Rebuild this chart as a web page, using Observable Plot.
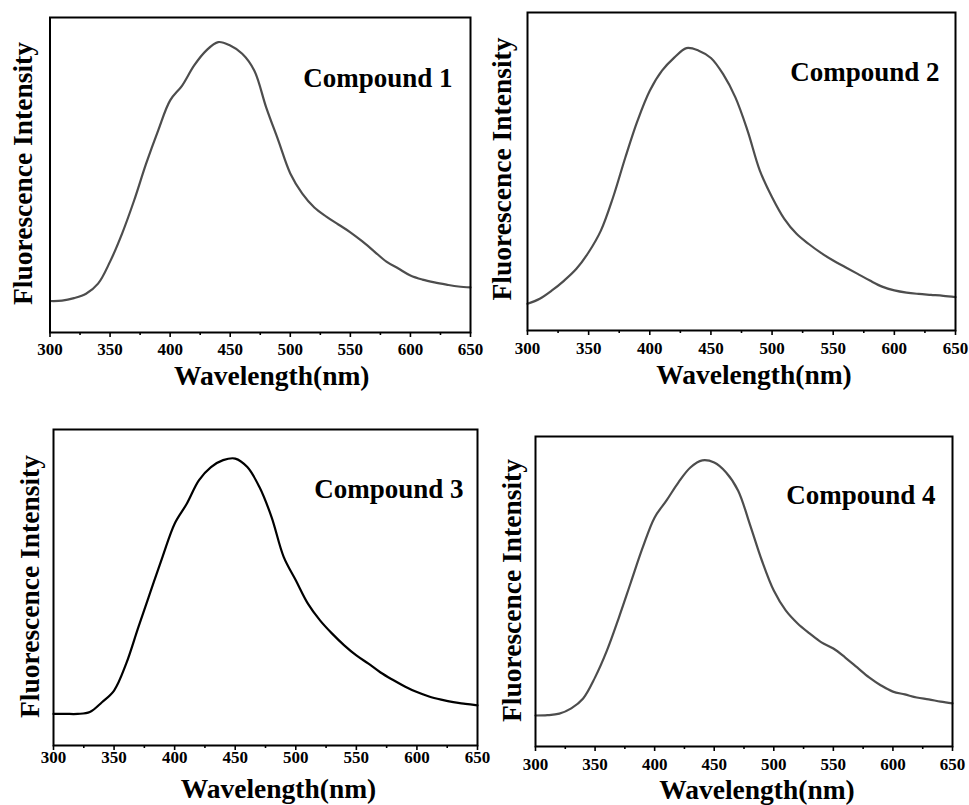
<!DOCTYPE html>
<html>
<head>
<meta charset="utf-8">
<script src="https://cdn.jsdelivr.net/npm/d3@7"></script>
<script src="https://cdn.jsdelivr.net/npm/@observablehq/plot@0.6"></script>
<style>
  html, body { margin: 0; padding: 0; background: #ffffff; }
  #wrap { position: relative; width: 969px; height: 805px; overflow: hidden; background: #ffffff; }
  .panel { position: absolute; }
  .panel svg { overflow: visible; font-size: 17px; font-weight: bold; }
</style>
</head>
<body>
<div id="wrap"></div>
<script>
// ---- data ----
const wavelengths = [300, 310, 320, 330, 340, 350, 360, 370, 380, 390,
                     400, 410, 420, 430, 440, 450, 460, 470, 480, 490,
                     500, 510, 520, 530, 540, 550, 560, 570, 580, 590,
                     600, 610, 620, 630, 640, 650];

const compound1 = [0.100, 0.101, 0.109, 0.123, 0.155, 0.225, 0.314, 0.419, 0.536, 0.641,
                   0.737, 0.784, 0.848, 0.895, 0.922, 0.911, 0.885, 0.832, 0.714, 0.610,
                   0.505, 0.441, 0.397, 0.368, 0.343, 0.318, 0.289, 0.257, 0.225, 0.203,
                   0.181, 0.168, 0.159, 0.152, 0.146, 0.143];

const compound2 = [0.084, 0.100, 0.126, 0.157, 0.194, 0.246, 0.314, 0.419, 0.544, 0.660,
                   0.754, 0.817, 0.858, 0.888, 0.880, 0.857, 0.806, 0.733, 0.628, 0.503,
                   0.419, 0.351, 0.304, 0.272, 0.244, 0.220, 0.199, 0.178, 0.157, 0.138,
                   0.126, 0.119, 0.115, 0.112, 0.109, 0.105];

const compound3 = [0.100, 0.100, 0.100, 0.106, 0.137, 0.174, 0.259, 0.374, 0.486, 0.597,
                   0.702, 0.765, 0.839, 0.881, 0.903, 0.908, 0.881, 0.818, 0.723, 0.597,
                   0.523, 0.449, 0.396, 0.354, 0.317, 0.285, 0.259, 0.231, 0.208, 0.187,
                   0.169, 0.155, 0.145, 0.137, 0.132, 0.127];

const compound4 = [0.100, 0.101, 0.106, 0.123, 0.155, 0.223, 0.310, 0.416, 0.529, 0.642,
                   0.739, 0.794, 0.852, 0.900, 0.923, 0.916, 0.884, 0.826, 0.716, 0.600,
                   0.503, 0.439, 0.397, 0.365, 0.336, 0.316, 0.287, 0.255, 0.223, 0.197,
                   0.177, 0.168, 0.158, 0.152, 0.145, 0.139];

const seriesNames = ["Compound 1", "Compound 2", "Compound 3", "Compound 4"];
const majorTicks = [300, 350, 400, 450, 500, 550, 600, 650];
const minorTicks = [325, 375, 425, 475, 525, 575, 625];
const xTitle = "Wavelength(nm)";
const yTitle = "Fluorescence Intensity";

// ---- layout / style per panel ----
const panels = [
  {values: compound1, left: 0,   top: 0,   w: 480, h: 400, ml: 49.5, mr: 10, mt: 17, mb: 68, color: "#4d4d4d", pad: 5.5,
   yDx: -26.5, yDy: -1.5, xDx: 11.5, xDy: 44, lDx: -18, lDy: 61},
  {values: compound2, left: 480, top: 0,   w: 489, h: 400, ml: 47,   mr: 14, mt: 12, mb: 70, color: "#4d4d4d", pad: 6,
   yDx: -25,   yDy: -2.5, xDx: 12.5, xDy: 45, lDx: -16, lDy: 60},
  {values: compound3, left: 0,   top: 400, w: 480, h: 405, ml: 53,   mr: 3,  mt: 29, mb: 60, color: "#000000", pad: 0,
   yDx: -23,   yDy: -1,   xDx: 13,   xDy: 44, lDx: -14, lDy: 60},
  {values: compound4, left: 480, top: 400, w: 489, h: 405, ml: 55,   mr: 17, mt: 36, mb: 59, color: "#4d4d4d", pad: 6,
   yDx: -23,   yDy: -1,   xDx: 13,   xDy: 44, lDx: -17, lDy: 59}
];

const FONT = "'Liberation Serif', 'Times New Roman', serif";
const wrap = document.getElementById("wrap");

panels.forEach((p, i) => {
  const data = wavelengths.map((w, k) => ({w, v: p.values[k]}));
  const chart = Plot.plot({
    width: p.w,
    height: p.h,
    marginLeft: p.ml,
    marginRight: p.mr,
    marginTop: p.mt,
    marginBottom: p.mb,
    style: {background: "transparent", fontFamily: FONT, fontSize: "17px", fontWeight: "bold", overflow: "visible"},
    x: {domain: [300, 650], axis: null},
    y: {domain: [0, 1], axis: null},
    marks: [
      Plot.line(data, {x: "w", y: "v", stroke: p.color, strokeWidth: 2.2, curve: "catmull-rom"}),
      Plot.frame({stroke: "#000", strokeWidth: 2}),
      Plot.axisX(majorTicks, {anchor: "bottom", tickSize: 5, tickPadding: p.pad, label: null,
        stroke: "#000", strokeWidth: 1.6, fill: "#000", fontSize: 17, fontWeight: "bold",
        tickFormat: d => String(d)}),
      Plot.axisX(minorTicks, {anchor: "bottom", tickSize: 3, label: null,
        stroke: "#000", strokeWidth: 1.6, tickFormat: () => ""}),
      Plot.text([seriesNames[i]], {text: d => d, frameAnchor: "top-right", textAnchor: "end",
        lineAnchor: "middle", dx: p.lDx, dy: p.lDy, fontSize: 27, fontWeight: "bold", fill: "#000"}),
      Plot.text([xTitle], {text: d => d, frameAnchor: "bottom", textAnchor: "middle",
        lineAnchor: "middle", dx: p.xDx, dy: p.xDy, fontSize: 27.5, fontWeight: "bold", fill: "#000"}),
      Plot.text([yTitle], {text: d => d, frameAnchor: "left", textAnchor: "middle",
        lineAnchor: "middle", rotate: -90, dx: p.yDx, dy: p.yDy, fontSize: 27.5, fontWeight: "bold", fill: "#000"})
    ]
  });
  const div = document.createElement("div");
  div.className = "panel";
  div.style.left = p.left + "px";
  div.style.top = p.top + "px";
  div.appendChild(chart);
  wrap.appendChild(div);
});
</script>
</body>
</html>
